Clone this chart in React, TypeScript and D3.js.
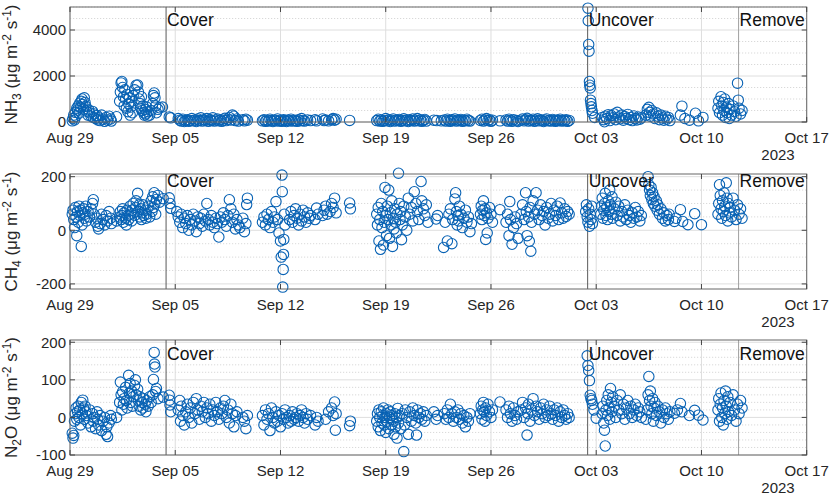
import React from 'react';
import * as d3 from 'd3';

// ---------- data ----------
const startDate = new Date(2023, 7, 29);
const endDate = new Date(2023, 9, 17);
const xTickDays = [0, 7, 14, 21, 28, 35, 42, 49];
const yearLabel = '2023';

const eventDays = [6.39, 34.43, 44.47];
const eventNames = ['Cover', 'Uncover', 'Remove'];

const nh3Domain = [0, 5000];
const nh3Ticks = [0, 2000, 4000];
const ch4Domain = [-219, 210];
const ch4Ticks = [-200, 0, 200];
const n2oDomain = [-100, 206];
const n2oTicks = [-100, 0, 100, 200];

// [days since Aug 29 2023, flux]
const nh3: [number, number][] = [
  [0.15,50],[0.2,150],[0.25,300],[0.3,90],[0.35,420],[0.4,250],[0.45,600],[0.5,520],[0.55,700],[0.6,380],[0.65,820],[0.7,640],[0.75,900],[0.8,1000],[0.85,760],[0.9,560],[0.95,1050],[1.0,850],[1.05,680],[1.1,470],[1.2,300],[1.25,520],[1.3,400],[1.4,250],[1.5,460],[1.55,200],[1.6,350],[1.7,150],[1.8,280],[1.85,90],[1.9,180],[2.0,60],[2.1,300],[2.2,120],[2.3,30],[2.4,200],[2.5,80],[2.6,250],[2.7,130],[2.75,40],
  [3.1,230],
  [3.3,900],[3.35,1300],[3.4,1700],[3.45,1760],[3.5,1500],[3.55,1100],[3.6,700],[3.65,1400],[3.7,1000],[3.75,600],[3.8,1200],[3.85,450],[3.9,800],[3.95,1050],[4.0,300],[4.05,650],[4.1,900],[4.15,400],[4.2,1150],[4.3,1400],[4.4,1600],[4.5,1610],[4.55,1300],[4.6,1000],[4.65,800],[4.7,600],[4.75,1100],[4.8,500],[4.85,700],[4.9,400],[4.95,300],[5.0,550],[5.05,350],[5.1,650],[5.15,250],[5.2,450],[5.3,300],[5.4,500],[5.5,800],[5.55,1150],[5.6,1260],[5.65,1050],[5.7,700],[5.75,400],[5.85,550],[5.95,620],[6.15,650],
  [6.6,220],[6.7,180],
  [7.2,150],[7.3,80],[7.4,40],[7.5,120],[7.6,20],[7.7,60],[7.8,100],[7.9,30],[8.0,70],[8.1,150],[8.2,50],[8.3,90],[8.4,20],[8.5,130],[8.6,60],[8.7,180],[8.8,40],[8.9,100],[9.0,70],[9.1,150],[9.2,30],[9.3,110],[9.4,60],[9.5,180],[9.6,40],[9.7,90],[9.8,130],[9.9,50],[10.0,100],[10.1,30],[10.2,80],[10.3,160],[10.4,60],[10.5,120],[10.6,200],[10.7,90],[10.8,300],[10.9,250],[11.0,60],[11.1,130],[11.2,40],[11.5,100],[11.6,50],[11.7,120],[11.8,80],
  [12.8,50],[12.9,100],[13.0,30],[13.1,80],[13.2,40],[13.3,120],[13.4,60],[13.5,20],[13.6,90],[13.7,50],[13.8,130],[13.9,40],[14.0,80],[14.1,30],[14.2,100],[14.3,60],[14.4,20],[14.5,90],[14.6,50],[14.7,120],[14.8,40],[14.9,80],[15.0,60],[15.1,30],[15.2,100],[15.3,50],[15.4,150],[15.5,70],[15.6,40],[15.8,90],[16.0,60],[16.3,100],[16.4,50],[16.8,130],[16.9,60],[17.0,90],[17.2,50],[17.4,100],[17.5,150],[17.6,80],[17.7,120],[18.6,70],
  [20.4,60],[20.5,120],[20.6,40],[20.7,90],[20.8,30],[20.9,70],[21.0,150],[21.1,50],[21.2,100],[21.3,20],[21.4,80],[21.5,130],[21.6,40],[21.7,90],[21.8,60],[21.9,110],[22.0,30],[22.1,70],[22.2,140],[22.3,50],[22.4,90],[22.5,20],[22.6,100],[22.7,60],[22.8,130],[22.9,40],[23.0,80],[23.1,150],[23.2,50],[23.3,100],[23.4,30],[23.5,70],[23.6,110],[23.7,40],[24.2,80],[24.4,60],[24.7,50],[24.9,90],[25.0,40],[25.1,120],[25.2,60],[25.3,30],[25.4,100],[25.5,70],[25.6,130],[25.7,40],[25.8,90],[25.9,60],[26.0,110],[26.1,30],[26.2,80],[26.3,50],[26.4,120],[26.5,70],[26.6,40],
  [27.3,70],[27.4,120],[27.5,40],[27.6,90],[27.7,150],[27.8,60],[27.9,100],[28.0,30],[28.1,80],[28.6,50],[29.0,90],[29.1,40],[29.2,120],[29.3,70],[29.4,30],[29.5,100],[29.7,60],[29.8,20],[30.0,80],[30.1,130],[30.2,50],[30.3,100],[30.4,160],[30.5,40],[30.6,90],[30.7,60],[30.8,120],[30.9,30],[31.0,80],[31.1,140],[31.2,50],[31.3,100],[31.4,60],[31.5,20],[31.6,90],[31.7,130],[31.8,50],[31.9,80],[32.0,40],[32.1,110],[32.2,70],[32.3,30],[32.4,90],[32.5,60],[32.6,120],[32.7,40],[32.8,80],[32.9,50],[33.0,100],[33.1,30],[33.2,70],
  [34.45,4950],[34.47,4400],[34.5,3370],[34.52,3080],[34.55,1760],[34.57,1600],[34.6,1480],[34.62,950],[34.65,800],[34.68,660],[34.72,500],[34.75,380],[34.9,200],
  [35.4,200],[35.5,100],[35.55,10],[35.6,250],[35.7,150],[35.8,320],[35.9,60],[36.0,280],[36.1,180],[36.2,350],[36.3,100],[36.4,420],[36.5,220],[36.6,140],[36.7,300],[36.8,80],[36.9,240],[37.0,160],[37.1,330],[37.2,100],[37.3,200],[37.4,60],[37.5,260],[37.6,150],[37.7,90],[37.8,220],[37.9,120],[38.0,180],
  [38.3,300],[38.4,550],[38.5,640],[38.55,420],[38.6,250],[38.7,500],[38.8,350],[38.9,150],[39.0,400],[39.1,250],[39.2,100],[39.3,300],[39.4,180],[39.5,80],[39.6,250],[39.7,120],[39.8,200],[39.9,60],
  [40.6,300],[40.7,690],[40.9,150],[41.2,80],[41.6,380],[41.8,50],[42.1,200],
  [43.1,600],[43.15,900],[43.2,400],[43.3,1100],[43.35,700],[43.4,300],[43.45,850],[43.5,500],[43.55,1000],[43.6,200],[43.65,650],[43.7,400],[43.8,800],[43.85,150],[43.9,550],[44.0,300],[44.1,700],[44.2,450],[44.3,250],[44.4,1690],[44.45,950],[44.5,600],[44.6,350],[44.7,500],
];

const ch4: [number, number][] = [
  [0.15,60],[0.2,75],[0.25,40],[0.3,10],[0.35,85],[0.4,50],[0.45,-20],[0.5,70],[0.55,30],[0.6,90],[0.65,55],[0.7,75],[0.75,-60],[0.8,20],[0.85,65],[0.9,80],[0.95,45],[1.0,60],[1.05,90],[1.1,35],[1.2,70],[1.3,50],[1.4,80],[1.5,100],[1.55,114],[1.6,60],[1.7,30],[1.8,45],[1.85,15],[1.9,5],[2.0,25],[2.1,60],[2.2,40],[2.3,20],[2.4,55],[2.5,35],[2.6,70],[2.7,45],[2.75,25],
  [3.1,35],
  [3.3,50],[3.35,70],[3.4,40],[3.45,55],[3.5,80],[3.55,30],[3.6,65],[3.7,45],[3.75,20],[3.8,75],[3.85,55],[3.9,40],[4.0,90],[4.05,60],[4.1,35],[4.15,75],[4.2,100],[4.3,55],[4.35,85],[4.4,110],[4.5,138],[4.55,70],[4.6,95],[4.65,50],[4.7,80],[4.75,40],[4.8,65],[4.85,95],[4.9,55],[5.0,75],[5.05,45],[5.1,60],[5.2,90],[5.3,50],[5.4,110],[5.45,70],[5.5,125],[5.55,85],[5.6,140],[5.65,100],[5.7,60],[5.75,115],[5.85,130],[5.95,105],
  [6.2,118],[6.6,121],[6.65,100],[6.7,82],
  [7.1,70],[7.2,50],[7.3,30],[7.4,60],[7.5,10],[7.6,45],[7.7,25],[7.8,55],[7.9,0],[8.0,40],[8.1,20],[8.2,60],[8.3,35],[8.4,-5],[8.5,50],[8.6,25],[8.7,45],[8.8,15],[8.9,60],[9.0,35],[9.1,100],[9.2,40],[9.3,20],[9.4,55],[9.5,30],[9.6,10],[9.7,45],[9.8,25],[9.9,-25],[10.0,50],[10.1,30],[10.2,65],[10.3,40],[10.4,15],[10.5,55],[10.6,114],[10.7,80],[10.8,30],[10.9,60],[11.0,5],[11.1,40],[11.2,20],[11.3,10],[11.5,45],[11.6,-5],[11.7,25],[11.75,96],[11.8,120],
  [12.8,30],[12.9,50],[13.0,20],[13.1,60],[13.2,40],[13.3,10],[13.4,70],[13.5,30],[13.6,50],[13.7,107],[13.8,40],[13.9,-10],[14.0,-40],[14.05,-100],[14.1,206],[14.12,144],[14.15,-212],[14.18,-146],[14.2,-90],[14.22,-34],[14.25,60],[14.3,20],
  [14.6,40],[14.7,70],[14.8,30],[14.9,55],[15.0,80],[15.1,45],[15.2,20],[15.3,60],[15.4,35],[15.5,75],[15.6,50],[15.7,30],[15.8,65],[15.9,45],[16.0,55],[16.3,40],[16.4,83],[16.5,60],[16.8,55],[16.9,75],[17.0,90],[17.1,60],[17.3,70],[17.4,100],[17.5,85],[17.6,120],[17.7,65],[18.6,102],[18.65,80],
  [20.4,60],[20.45,20],[20.5,85],[20.55,-40],[20.6,40],[20.65,-71],[20.7,100],[20.75,10],[20.8,70],[20.85,-55],[20.9,30],[20.95,160],[21.0,55],[21.05,-20],[21.1,90],[21.15,40],[21.2,150],[21.25,-30],[21.3,65],[21.35,20],[21.4,110],[21.45,-60],[21.5,45],[21.55,5],[21.6,80],[21.65,30],[21.7,-10],[21.75,60],[21.85,213],[21.9,100],[21.95,40],[22.0,70],[22.05,-35],[22.1,20],[22.2,90],[22.3,50],[22.4,0],[22.5,120],[22.6,60],[22.7,85],[22.8,35],[22.9,144],[23.0,100],[23.1,70],[23.2,40],[23.35,182],[23.4,110],[23.5,80],[23.6,55],[23.7,95],[23.8,30],[24.35,42],[24.45,55],[24.85,-64],[24.95,30],[25.1,-40],[25.2,60],[25.3,80],[25.4,-50],[25.45,40],[25.6,117],[25.65,140],[25.7,70],[25.75,20],[25.8,55],[25.85,35],[25.9,90],[26.0,60],[26.1,10],[26.2,45],[26.3,75],[26.4,30],[26.5,50],[26.6,-5],[26.7,25],
  [27.3,60],[27.35,90],[27.4,40],[27.45,75],[27.5,110],[27.55,55],[27.6,80],[27.65,-34],[27.7,65],[27.75,-10],[27.8,45],[27.9,85],[28.0,60],[28.1,30],[28.6,77],[29.0,30],[29.1,60],[29.2,-20],[29.25,107],[29.3,40],[29.4,-52],[29.5,10],[29.6,50],[29.7,25],[29.8,-30],[30.0,60],[30.1,95],[30.2,40],[30.3,140],[30.35,70],[30.4,-20],[30.5,50],[30.55,-41],[30.6,85],[30.65,-78],[30.7,30],[30.8,110],[30.9,60],[31.0,140],[31.1,75],[31.2,40],[31.3,95],[31.4,55],[31.5,70],[31.6,20],[31.7,85],[31.8,45],[31.9,60],[32.0,100],[32.1,35],[32.2,75],[32.3,55],[32.4,90],[32.5,40],[32.6,102],[32.7,65],[32.8,45],[32.9,80],[33.0,52],[33.1,70],[33.2,60],
  [34.3,70],[34.35,95],[34.4,50],[34.45,30],[34.5,80],[34.55,15],[34.6,60],[34.65,40],[34.7,90],[34.75,25],
  [35.3,60],[35.35,90],[35.4,120],[35.45,45],[35.5,75],[35.55,100],[35.6,138],[35.65,55],[35.7,85],[35.75,40],[35.8,110],[35.85,70],[35.9,150],[35.95,95],[36.0,60],[36.05,125],[36.1,45],[36.2,80],[36.3,105],[36.4,55],[36.5,90],[36.6,35],[36.7,70],[36.8,50],[36.9,95],[37.0,40],[37.1,75],[37.2,55],[37.3,30],[37.4,65],[37.5,45],[37.6,85],[37.7,50],[37.8,70],[37.9,35],[38.0,55],
  [38.45,200],[38.5,170],[38.55,150],[38.6,130],[38.65,160],[38.7,115],[38.75,140],[38.8,100],[38.85,125],[38.9,90],[39.0,110],[39.05,75],[39.1,95],[39.2,60],[39.3,80],[39.4,45],[39.5,65],[39.6,35],[39.7,55],[39.8,40],[39.85,60],
  [40.2,33],[40.3,45],[40.6,77],[40.75,33],[41.1,21],[41.55,62],[42.0,21],
  [43.1,60],[43.15,100],[43.2,170],[43.25,130],[43.3,80],[43.35,45],[43.4,110],[43.45,70],[43.5,140],[43.55,90],[43.6,55],[43.65,177],[43.7,120],[43.75,35],[43.8,100],[43.85,65],[43.9,85],[44.0,50],[44.1,120],[44.2,75],[44.3,40],[44.4,95],[44.5,60],[44.6,80],[44.7,45],
];

const n2o: [number, number][] = [
  [0.15,-42],[0.2,-55],[0.25,-48],[0.3,-10],[0.35,10],[0.4,25],[0.45,-5],[0.5,15],[0.55,30],[0.6,0],[0.65,20],[0.7,-20],[0.75,40],[0.8,10],[0.85,46],[0.9,25],[0.95,-5],[1.0,30],[1.05,15],[1.1,5],[1.2,-15],[1.3,20],[1.4,-25],[1.5,10],[1.55,-10],[1.6,0],[1.7,-30],[1.8,15],[1.85,-5],[1.9,-20],[2.0,5],[2.1,-35],[2.2,-10],[2.3,0],[2.4,-45],[2.45,-25],[2.5,-51],[2.6,-15],[2.7,5],[2.75,-5],
  [3.1,0],
  [3.3,40],[3.35,94],[3.4,60],[3.45,20],[3.5,68],[3.55,35],[3.6,50],[3.7,80],[3.75,45],[3.8,25],[3.9,112],[3.95,65],[4.0,90],[4.05,40],[4.1,70],[4.15,30],[4.2,55],[4.3,85],[4.35,100],[4.4,60],[4.5,75],[4.55,45],[4.6,30],[4.65,55],[4.7,20],[4.8,40],[4.85,25],[4.9,50],[5.0,35],[5.05,15],[5.1,45],[5.2,30],[5.3,55],[5.4,40],[5.5,60],[5.55,101],[5.6,173],[5.62,142],[5.65,134],[5.7,69],[5.75,77],[5.85,50],
  [6.2,54],[6.6,59],[6.62,46],[6.65,33],[6.7,15],
  [7.2,20],[7.3,45],[7.35,-10],[7.4,30],[7.5,5],[7.6,-20],[7.7,15],[7.8,35],[7.9,0],[8.0,25],[8.1,-15],[8.2,40],[8.3,10],[8.4,50],[8.5,20],[8.6,-5],[8.7,30],[8.8,15],[8.9,40],[9.0,0],[9.1,25],[9.2,10],[9.3,35],[9.4,-10],[9.5,20],[9.6,5],[9.7,40],[9.8,15],[9.9,-5],[10.0,25],[10.1,10],[10.2,30],[10.3,45],[10.4,0],[10.5,20],[10.6,-15],[10.7,35],[10.8,10],[10.9,-25],[11.0,5],[11.1,15],[11.5,0],[11.6,-10],[11.7,-30],[11.8,5],
  [12.8,5],[12.9,-20],[13.0,20],[13.1,-5],[13.2,10],[13.3,-35],[13.4,25],[13.5,0],[13.6,-15],[13.7,15],[13.8,-10],[13.9,5],[14.0,-25],[14.1,10],[14.2,-5],[14.3,20],[14.4,0],[14.5,-15],[14.6,5],[14.7,-10],[14.8,15],[14.9,-5],[15.0,0],[15.1,10],[15.2,-10],[15.3,5],[15.4,20],[15.5,0],[15.6,-15],[15.7,10],[15.8,-5],[16.0,5],[16.3,-20],[16.4,0],[16.5,-10],[17.0,-5],[17.2,15],[17.4,25],[17.5,5],[17.6,41],[17.65,-34],[17.7,10],[18.6,-22],[18.65,-10],
  [20.4,-10],[20.45,10],[20.5,-25],[20.55,20],[20.6,0],[20.65,-35],[20.7,15],[20.75,-15],[20.8,5],[20.85,25],[20.9,-20],[20.95,0],[21.0,-40],[21.05,10],[21.1,-10],[21.15,20],[21.2,-30],[21.25,0],[21.3,15],[21.35,-20],[21.4,5],[21.45,-5],[21.5,-10],[21.55,-45],[21.6,10],[21.65,-25],[21.7,0],[21.75,-55],[21.8,24],[21.85,-15],[21.9,5],[22.0,-30],[22.1,10],[22.2,-91],[22.25,-20],[22.3,20],[22.4,0],[22.5,-45],[22.6,15],[22.7,-10],[22.8,25],[22.9,5],[23.0,-15],[23.05,-47],[23.1,20],[23.2,0],[23.3,10],[23.4,-5],[23.5,15],[23.6,-10],[23.7,5],[24.2,15],[24.35,-5],[24.45,5],[24.9,10],[25.0,-5],[25.1,20],[25.2,0],[25.3,35],[25.4,10],[25.5,-10],[25.6,15],[25.7,0],[25.8,20],[25.9,-5],[26.0,10],[26.1,-15],[26.2,5],[26.3,-25],[26.4,0],[26.5,-10],[26.6,10],
  [27.3,10],[27.35,30],[27.4,-5],[27.45,20],[27.5,40],[27.55,15],[27.6,-10],[27.65,25],[27.7,5],[27.8,35],[27.9,15],[28.0,0],[28.1,20],[28.6,41],[29.0,20],[29.1,0],[29.2,30],[29.3,10],[29.4,-10],[29.5,25],[29.6,5],[29.7,-5],[29.8,15],[30.0,20],[30.1,40],[30.2,0],[30.3,25],[30.4,-47],[30.45,10],[30.5,35],[30.6,-10],[30.7,20],[30.8,50],[30.9,5],[31.0,30],[31.1,15],[31.2,-5],[31.3,25],[31.4,10],[31.5,35],[31.6,0],[31.7,20],[31.8,5],[31.9,30],[32.0,10],[32.1,-5],[32.2,20],[32.3,5],[32.4,25],[32.5,-10],[32.6,15],[32.7,0],[32.8,20],[32.9,5],[33.0,-5],[33.1,10],[33.2,0],
  [34.4,164],[34.45,138],[34.5,125],[34.55,98],[34.6,59],[34.65,50],[34.7,45],[34.75,35],[34.85,20],[35.0,-2],
  [35.4,10],[35.45,30],[35.5,-15],[35.55,-34],[35.6,-76],[35.65,20],[35.7,45],[35.75,5],[35.8,60],[35.85,25],[35.9,-5],[35.95,77],[36.0,40],[36.05,15],[36.1,55],[36.2,30],[36.3,0],[36.4,45],[36.5,20],[36.6,60],[36.7,10],[36.8,35],[36.9,-5],[37.0,25],[37.1,45],[37.2,10],[37.3,30],[37.4,0],[37.5,20],[37.6,35],[37.7,5],[37.8,25],[37.9,15],[38.0,0],
  [38.3,-5],[38.4,20],[38.45,60],[38.5,109],[38.55,45],[38.6,70],[38.65,30],[38.7,10],[38.75,50],[38.8,-10],[38.85,25],[38.9,40],[39.0,5],[39.1,30],[39.2,15],[39.3,-15],[39.4,20],[39.5,0],[39.6,25],[39.7,10],[39.8,-5],[39.9,15],
  [40.2,11],[40.4,20],[40.6,37],[40.7,15],[41.2,5],[41.55,19],[41.8,6],[42.1,-7],
  [43.1,20],[43.15,50],[43.2,-10],[43.25,35],[43.3,65],[43.35,0],[43.4,25],[43.45,-20],[43.5,45],[43.55,10],[43.6,70],[43.65,30],[43.7,-5],[43.75,55],[43.8,15],[43.9,40],[44.0,5],[44.1,60],[44.2,20],[44.3,-10],[44.4,35],[44.5,10],[44.6,45],[44.7,25],
];

// ---------- layout ----------
const W = 830, H = 495;
const left = 70, right = 806.7;
const panelTops = [7, 174, 340];
const panelH = 115;
const font = '"Liberation Sans", Arial, Helvetica, sans-serif';
const markerColor = '#0862b4';

const dayToDate = (d: number) => new Date(startDate.getTime() + d * 86400000);
const x = d3.scaleTime().domain([startDate, endDate]).range([left, right]);
const fmt = d3.timeFormat('%b %d');

type PanelDef = {
  data: [number, number][];
  domain: number[];
  ticks: number[];
  minor: number;
  labelY: number;
  label: 'nh3' | 'ch4' | 'n2o';
};

const panels: PanelDef[] = [
  { data: nh3, domain: nh3Domain, ticks: nh3Ticks, minor: 500, labelY: 4450, label: 'nh3' },
  { data: ch4, domain: ch4Domain, ticks: ch4Ticks, minor: 50, labelY: 185, label: 'ch4' },
  { data: n2o, domain: n2oDomain, ticks: n2oTicks, minor: 20, labelY: 170, label: 'n2o' },
];

function YLabel({ kind, cx, cy }: { kind: string; cx: number; cy: number }) {
  const fs = 17, ss = 12;
  const head =
    kind === 'nh3' ? [['NH', '3']] : kind === 'ch4' ? [['CH', '4']] : [['N', '2'], ['O', '']];
  return (
    <text transform={`translate(${cx},${cy}) rotate(-90)`} textAnchor="middle" fontSize={fs}
      fontFamily={font} fill="#262626" dy="0.35em">
      {head.map((h, i) => (
        <React.Fragment key={i}>
          <tspan dy={i === 0 ? 0 : -4}>{h[0]}</tspan>
          {h[1] !== '' && <tspan fontSize={ss} dy={4}>{h[1]}</tspan>}
        </React.Fragment>
      ))}
      <tspan dy={kind === 'n2o' ? 0 : -4}>{' (\u03bcg m'}</tspan>
      <tspan fontSize={ss} dy={-6}>-2</tspan>
      <tspan dy={6}>{' s'}</tspan>
      <tspan fontSize={ss} dy={-6}>-1</tspan>
      <tspan dy={6}>)</tspan>
    </text>
  );
}

function Panel({ p, top }: { p: PanelDef; top: number }) {
  const bottom = top + panelH;
  const y = d3.scaleLinear().domain(p.domain).range([bottom, top]);
  const minorVals = d3.range(Math.ceil(p.domain[0] / p.minor) * p.minor, p.domain[1] + 1e-9, p.minor)
    .filter((v) => !p.ticks.includes(v));
  const xTicks = xTickDays.map(dayToDate);
  return (
    <g>
      {minorVals.map((v) => (
        <line key={'m' + v} x1={left} x2={right} y1={y(v)} y2={y(v)} stroke="#cfcfcf"
          strokeWidth={0.8} strokeDasharray="1.2,1.8" />
      ))}
      {p.ticks.map((v) => (
        <line key={'g' + v} x1={left} x2={right} y1={y(v)} y2={y(v)} stroke="#dedede" strokeWidth={1} />
      ))}
      {xTicks.map((t, i) => (
        <line key={'vx' + i} x1={x(t)} x2={x(t)} y1={top} y2={bottom} stroke="#dedede" strokeWidth={1} />
      ))}
      {eventDays.map((d, i) => (
        <line key={'e' + i} x1={x(dayToDate(d))} x2={x(dayToDate(d))} y1={top} y2={bottom}
          stroke={i === 2 ? '#a0a0a0' : '#5a5a5a'} strokeWidth={1} />
      ))}
      {p.data.map((pt, i) => (
        <circle key={i} cx={x(dayToDate(pt[0]))} cy={y(pt[1])} r={5.2} fill="none"
          stroke={markerColor} strokeWidth={1.1} />
      ))}
      <rect x={left} y={top} width={right - left} height={panelH} fill="none" stroke="#666" strokeWidth={1} />
      {xTicks.map((t, i) => (
        <g key={'xt' + i}>
          <line x1={x(t)} x2={x(t)} y1={bottom} y2={bottom - 5} stroke="#444" />
          <line x1={x(t)} x2={x(t)} y1={top} y2={top + 5} stroke="#444" />
          <text x={x(t)} y={bottom + 15.5} dy="0.35em" textAnchor="middle" fontSize={15}
            fontFamily={font} fill="#262626">{fmt(t)}</text>
        </g>
      ))}
      {p.ticks.map((v) => (
        <g key={'yt' + v}>
          <line x1={left} x2={left + 5} y1={y(v)} y2={y(v)} stroke="#444" />
          <line x1={right} x2={right - 5} y1={y(v)} y2={y(v)} stroke="#444" />
          <text x={left - 4} y={y(v)} dy="0.35em" textAnchor="end" fontSize={15}
            fontFamily={font} fill="#262626">{v}</text>
        </g>
      ))}
      <text x={778} y={bottom + 33} dy="0.35em" textAnchor="middle" fontSize={15}
        fontFamily={font} fill="#262626">{yearLabel}</text>
      {eventDays.map((d, i) => (
        <text key={'el' + i} x={x(dayToDate(d)) + 1} y={y(p.labelY)} dy="0.35em" fontSize={17.5}
          fontFamily={font} fill="#111">{eventNames[i]}</text>
      ))}
      <YLabel kind={p.label} cx={17} cy={top + panelH / 2} />
    </g>
  );
}

export default function App() {
  return (
    <svg width={W} height={H} style={{ position: 'absolute', left: 0, top: 0, background: '#fff' }}>
      <rect width={W} height={H} fill="#fff" />
      {panels.map((p, i) => (
        <Panel key={i} p={p} top={panelTops[i]} />
      ))}
    </svg>
  );
}
